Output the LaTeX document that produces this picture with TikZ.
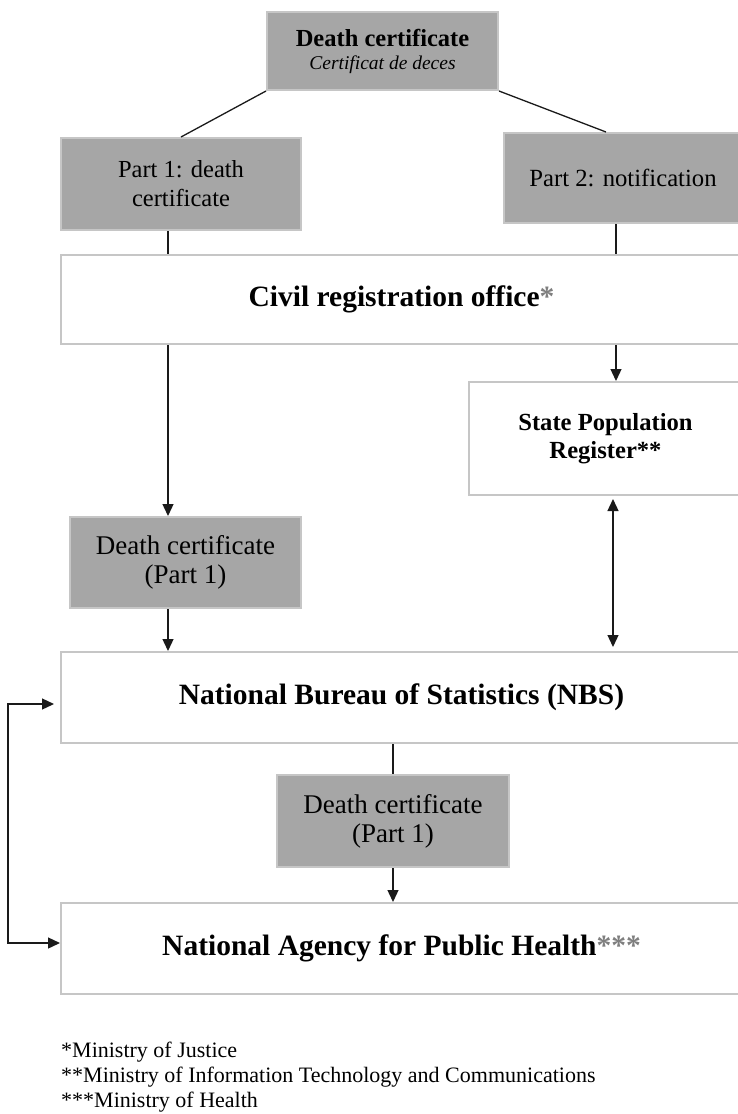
\documentclass[tikz,border=0pt]{standalone}
\usepackage{fontspec}
\setmainfont{Liberation Serif}
\usepackage{tikz}
\usetikzlibrary{arrows.meta}
\definecolor{my_fill}{HTML}{A6A6A6}
\definecolor{my_frame}{HTML}{C6C6C6}
\definecolor{my_star}{HTML}{7F7F7F}
\definecolor{my_line}{HTML}{1A1A1A}
\newcommand{\fsz}[2]{\fontsize{#1}{#2}\selectfont}

\begin{document}
\begin{tikzpicture}[
    x=1pt, y=-1pt,
    box/.style={draw=my_frame, line width=2pt, inner sep=0pt, align=center, text=black},
    graybox/.style={box, fill=my_fill},
    whitebox/.style={box, fill=white},
    conn/.style={my_line, line width=1.3pt},
    arr/.style={conn, -{Triangle[length=12pt, width=11pt]}},
    dblarr/.style={conn, {Triangle[length=12pt, width=11pt]}-{Triangle[length=12pt, width=11pt]}}
]
\useasboundingbox (0, 0) rectangle (737, 1114);

% ---------------------------------------------------------------
%  Weg des Totenscheins: Standesamt -> NBS -> Gesundheitsagentur
% ---------------------------------------------------------------

% Spalten fuer die senkrechten Verbindungen
\coordinate (colL) at (168, 0);
\coordinate (colR) at (616, 0);
\coordinate (colS) at (613, 0);

% Kopf und zwei Teile
\node[graybox, minimum width=231pt, minimum height=78pt, font=\fsz{24.5}{23}] (top) at (382.5, 51)
    {{\bfseries Death certificate}\\{\fsz{19.5}{23}\itshape Certificat de deces}};
\node[graybox, minimum width=240pt, minimum height=92pt, font=\fsz{24.5}{29}] (part1) at (181, 184)
    {Part 1: death\\certificate};
\node[graybox, minimum width=238pt, minimum height=90pt, font=\fsz{24.7}{29}] (part2) at (623, 178)
    {Part 2: notification};

% Stellen
\node[whitebox, minimum width=681pt, minimum height=89pt, font=\fsz{29.5}{34}\bfseries] (civil) at (401.5, 299.5)
    {Civil registration office{\color{my_star}*}};
\node[whitebox, minimum width=273pt, minimum height=113pt, font=\fsz{24.6}{28}\bfseries] (state) at (605.5, 438.5)
    {State Population\\Register**};
\node[graybox, minimum width=231pt, minimum height=91pt, font=\fsz{27}{29}] (dc1) at (185.5, 562.5)
    {Death certificate\\(Part 1)};
\node[whitebox, minimum width=681pt, minimum height=91pt, font=\fsz{29.5}{34}\bfseries] (nbs) at (401.5, 697.5)
    {National Bureau of Statistics (NBS)};
\node[graybox, minimum width=232pt, minimum height=92pt, font=\fsz{27}{29}] (dc2) at (393, 821)
    {Death certificate\\(Part 1)};
\node[whitebox, minimum width=681pt, minimum height=91pt, font=\fsz{29.5}{34}\bfseries] (naph) at (401.5, 948.5)
    {National Agency for Public Health{\color{my_star}***}};

% Fussnoten
\node[anchor=north west, align=left, inner sep=0pt, font=\fsz{22}{25}] (notes) at (61, 1042)
    {*Ministry of Justice\\**Ministry of Information Technology and Communications\\***Ministry of Health};

% Verbindungen
\draw[conn] (top.south west) -- (part1.north);
\draw[conn] (top.south east) -- ([xshift=-17pt]part2.north);
\draw[conn] (part1.south -| colL) -- (civil.north -| colL);
\draw[conn] (part2.south -| colR) -- (civil.north -| colR);
\draw[arr] (civil.south -| colL) -- (dc1.north -| colL);
\draw[arr] (civil.south -| colR) -- (state.north -| colR);
\draw[arr] (dc1.south -| colL) -- (nbs.north -| colL);
\draw[dblarr, shorten <=3pt, shorten >=4pt] (state.south -| colS) -- (nbs.north -| colS);
\draw[conn] (dc2.north |- nbs.south) -- (dc2.north);
\draw[arr] (dc2.south) -- (naph.north -| dc2.south);
\draw[dblarr, shorten >=6pt] ([yshift=5.5pt]naph.west) -- ++(-52, 0) |- ([yshift=-6.5pt]nbs.west);

\end{tikzpicture}
\end{document}
